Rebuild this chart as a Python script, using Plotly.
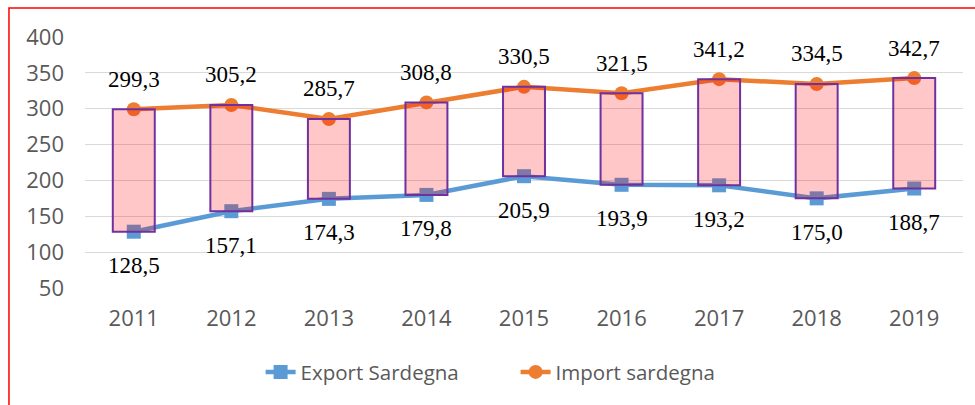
import plotly.graph_objects as go

years = ["2011", "2012", "2013", "2014", "2015", "2016", "2017", "2018", "2019"]
export_vals = [128.5, 157.1, 174.3, 179.8, 205.9, 193.9, 193.2, 175.0, 188.7]
import_vals = [299.3, 305.2, 285.7, 308.8, 330.5, 321.5, 341.2, 334.5, 342.7]
y_ticks = [50, 100, 150, 200, 250, 300, 350, 400]

def fmt(v):
    return f"{v:.1f}".replace(".", ",")

BLUE = "#5B9BD5"
ORANGE = "#ED7D31"
PURPLE = "#7030A0"
TICK_FONT = dict(family="Open Sans", size=22, color="#595959")
LEGEND_FONT = dict(family="Open Sans", size=20.5, color="#595959")
LABEL_FONT = dict(family="Liberation Serif", size=23, color="#000000")

fig = go.Figure()

fig.add_trace(go.Scatter(
    x=years, y=export_vals, name="Export Sardegna", mode="lines+markers",
    line=dict(color=BLUE, width=4.5),
    marker=dict(symbol="square", size=14, color=BLUE),
))
fig.add_trace(go.Scatter(
    x=years, y=import_vals, name="Import sardegna", mode="lines+markers",
    line=dict(color=ORANGE, width=4.5),
    marker=dict(symbol="circle", size=14, color=ORANGE),
))

# up-down bars, on an overlaying subplot so they sit above the lines
fig.add_trace(go.Bar(
    x=years,
    y=[i - e for i, e in zip(import_vals, export_vals)],
    base=export_vals,
    width=0.43,
    marker=dict(color="rgba(255,0,0,0.22)", line=dict(color=PURPLE, width=2)),
    xaxis="x2", yaxis="y2", showlegend=False, hoverinfo="skip",
))

annotations = []
for idx, v in enumerate(import_vals):
    annotations.append(dict(x=idx, y=v, xref="x", yref="y", text=fmt(v),
                            showarrow=False, yshift=30, font=LABEL_FONT))
for idx, v in enumerate(export_vals):
    annotations.append(dict(x=idx, y=v, xref="x", yref="y", text=fmt(v),
                            showarrow=False, yshift=-34, font=LABEL_FONT))

fig.update_layout(
    width=975, height=405,
    margin=dict(l=85, r=12, t=37, b=117),
    paper_bgcolor="white", plot_bgcolor="white",
    showlegend=True,
    legend=dict(orientation="h", x=0.2, y=-0.335, xanchor="left", yanchor="middle",
                font=LEGEND_FONT, entrywidth=210, entrywidthmode="pixels",
                tracegroupgap=0, bgcolor="rgba(0,0,0,0)"),
    xaxis=dict(type="category", categoryorder="array", categoryarray=years,
               range=[-0.5, 8.5], showgrid=False, zeroline=False, showline=False,
               ticks="", tickfont=TICK_FONT, ticklabelstandoff=15),
    yaxis=dict(range=[50, 400], tickvals=y_ticks, showgrid=True,
               gridcolor="#D9D9D9", gridwidth=1.3, zeroline=False, showline=False,
               ticks="", tickfont=TICK_FONT, ticklabelstandoff=20),
    xaxis2=dict(type="category", categoryorder="array", categoryarray=years,
                range=[-0.5, 8.5], overlaying="x", visible=False),
    yaxis2=dict(range=[50, 400], overlaying="y", visible=False),
    annotations=annotations,
    shapes=[dict(type="rect", xref="paper", yref="paper",
                 x0=-0.0866, x1=1.3, y0=-0.6, y1=1.116,
                 line=dict(color="#FF0000", width=1.5), fillcolor="rgba(0,0,0,0)",
                 layer="above")],
)

fig.write_html("out.html", config={"displayModeBar": False},
               post_script="document.body.style.margin='0';")
